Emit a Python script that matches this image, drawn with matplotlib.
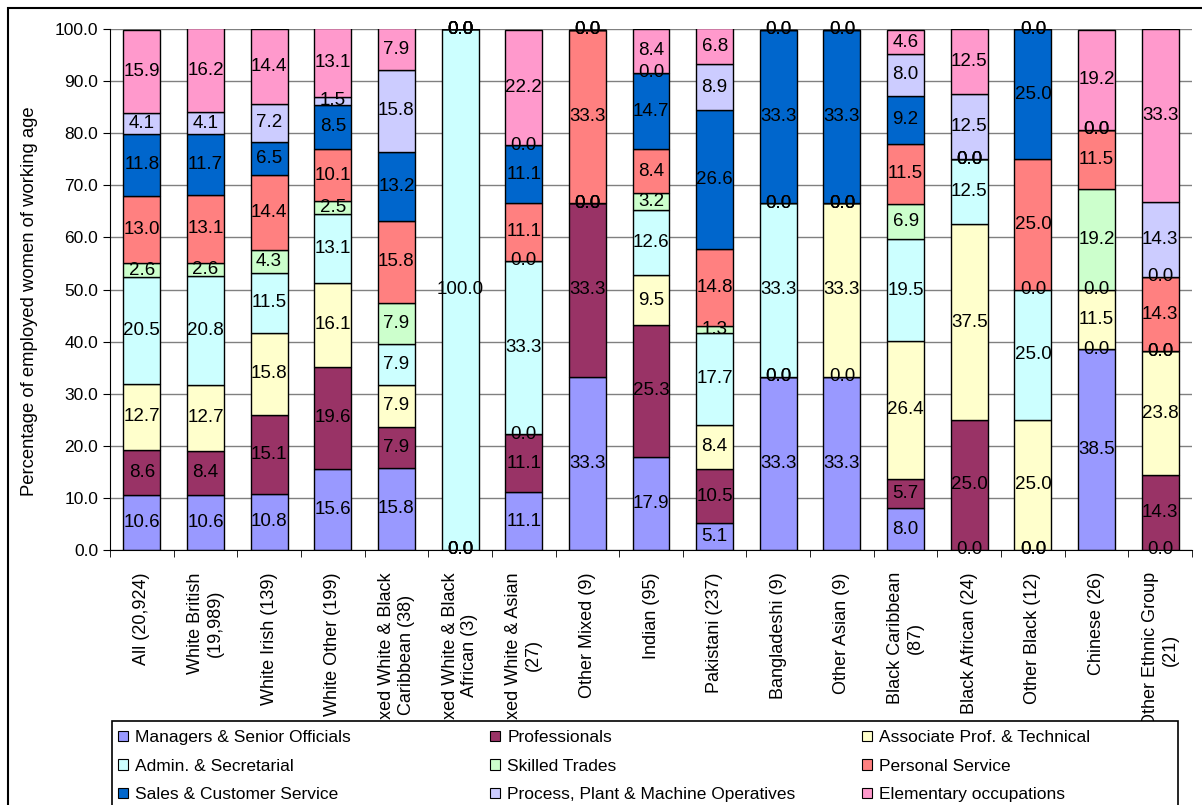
import numpy as np
import matplotlib
matplotlib.use("Agg")
import matplotlib.pyplot as plt
from matplotlib.patches import Rectangle, Patch

plt.rcParams['font.family'] = ['Liberation Sans', 'DejaVu Sans']

# ethnic groups (x axis)
groups = ["All (20,924)", "White British\n(19,989)", "White Irish (139)", "White Other (199)",
          "Mixed White & Black\nCaribbean (38)", "Mixed White & Black\nAfrican (3)",
          "Mixed White & Asian\n(27)", "Other Mixed (9)", "Indian (95)", "Pakistani (237)",
          "Bangladeshi (9)", "Other Asian (9)", "Black Caribbean\n(87)", "Black African (24)",
          "Other Black (12)", "Chinese (26)", "Other Ethnic Group\n(21)"]

occupations = ["Managers & Senior Officials", "Professionals", "Associate Prof. & Technical",
               "Admin. & Secretarial", "Skilled Trades", "Personal Service",
               "Sales & Customer Service", "Process, Plant & Machine Operatives",
               "Elementary occupations"]

colors = ["#9999FF", "#993366", "#FFFFCC", "#CCFFFF", "#CCFFCC", "#FF8080",
          "#0066CC", "#CCCCFF", "#FF99CC"]

# percentages per occupation, one value per group
managers     = [10.6, 10.6, 10.8, 15.6, 15.8, 0.0, 11.1, 33.3, 17.9, 5.1, 33.3, 33.3, 8.0, 0.0, 0.0, 38.5, 0.0]
professional = [8.6, 8.4, 15.1, 19.6, 7.9, 0.0, 11.1, 33.3, 25.3, 10.5, 0.0, 0.0, 5.7, 25.0, 0.0, 0.0, 14.3]
associate    = [12.7, 12.7, 15.8, 16.1, 7.9, 0.0, 0.0, 0.0, 9.5, 8.4, 0.0, 33.3, 26.4, 37.5, 25.0, 11.5, 23.8]
admin        = [20.5, 20.8, 11.5, 13.1, 7.9, 100.0, 33.3, 0.0, 12.6, 17.7, 33.3, 0.0, 19.5, 12.5, 25.0, 0.0, 0.0]
skilled      = [2.6, 2.6, 4.3, 2.5, 7.9, 0.0, 0.0, 0.0, 3.2, 1.3, 0.0, 0.0, 6.9, 0.0, 0.0, 19.2, 0.0]
personal     = [13.0, 13.1, 14.4, 10.1, 15.8, 0.0, 11.1, 33.3, 8.4, 14.8, 0.0, 0.0, 11.5, 0.0, 25.0, 11.5, 14.3]
sales        = [11.8, 11.7, 6.5, 8.5, 13.2, 0.0, 11.1, 0.0, 14.7, 26.6, 33.3, 33.3, 9.2, 0.0, 25.0, 0.0, 0.0]
process      = [4.1, 4.1, 7.2, 1.5, 15.8, 0.0, 0.0, 0.0, 0.0, 8.9, 0.0, 0.0, 8.0, 12.5, 0.0, 0.0, 14.3]
elementary   = [15.9, 16.2, 14.4, 13.1, 7.9, 0.0, 22.2, 0.0, 8.4, 6.8, 0.0, 0.0, 4.6, 12.5, 0.0, 19.2, 33.3]

series = [managers, professional, associate, admin, skilled, personal, sales, process, elementary]

W, H = 1202, 805
fig = plt.figure(figsize=(W / 100, H / 100), dpi=100)
ax = fig.add_axes([110 / W, 1 - 550 / H, (1192 - 110) / W, (550 - 29) / H])

x = np.arange(len(groups))
bottom = np.zeros(len(groups))
for vals, col in zip(series, colors):
    vals = np.array(vals)
    ax.bar(x, vals, 0.58, bottom=bottom, color=col, edgecolor="black", linewidth=1, zorder=2)
    for xi, b, v in zip(x, bottom, vals):
        ax.text(xi, b + v / 2, "%.1f" % v, ha="center", va="center", fontsize=13.5, zorder=3)
    bottom += vals

ax.set_xlim(-0.5, len(groups) - 0.5)
ax.set_ylim(0, 100)
ax.set_yticks(np.arange(0, 101, 10))
ax.set_yticklabels(["%.1f" % v for v in np.arange(0, 101, 10)], fontsize=12.5)
ax.yaxis.grid(True, color="#808080", linewidth=1, zorder=0)
ax.set_axisbelow(True)
ax.tick_params(axis="y", direction="out", length=5, color="black")

ax.set_xticks(x)
ax.set_xticklabels(groups, rotation=90, fontsize=13, ha="center", va="top",
                   multialignment="center", linespacing=1.2)
ax.set_xticks(np.arange(-0.5, len(groups) + 0.5, 1), minor=True)
ax.tick_params(axis="x", which="major", length=0, pad=16)
ax.tick_params(axis="x", which="minor", length=5, direction="out")

for s in ["top", "right"]:
    ax.spines[s].set_visible(False)
ax.spines["left"].set_color("black")
ax.spines["bottom"].set_color("black")

fig.text(30 / W, 1 - 301 / H, "Percentage of employed women of working age",
         rotation=90, ha="center", va="center", fontsize=13.3)

# legend box, then one column legend per column of the original
fig.patches.append(Rectangle((112 / W, -0.1), (1178 - 112) / W, 1 - 721 / H + 0.1,
                             transform=fig.transFigure, facecolor="white",
                             edgecolor="black", linewidth=1.2, zorder=4))
col_x = [118, 490, 862]
for c in range(3):
    idx = [c, c + 3, c + 6]
    handles = [Patch(facecolor=colors[i], edgecolor="black", linewidth=0.8) for i in idx]
    fig.legend(handles, [occupations[i] for i in idx], loc="upper left",
               bbox_to_anchor=(col_x[c] / W, 1 - 730 / H), fontsize=12.5, frameon=False,
               handlelength=0.55, handleheight=0.55, handletextpad=0.45,
               labelspacing=0.78, borderpad=0, borderaxespad=0)

# outer chart border
fig.patches.append(Rectangle((8 / W, -0.1), 1.2, 1 - 8 / H + 0.1, transform=fig.transFigure,
                             fill=False, edgecolor="black", linewidth=1.5))

fig.savefig("out.png", dpi=100)
